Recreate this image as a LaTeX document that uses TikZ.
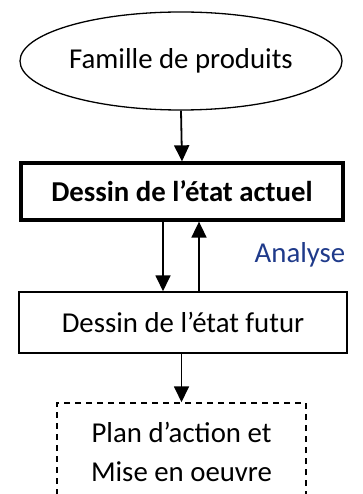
\documentclass[tikz,border=0pt]{standalone}
\usepackage{fontspec}
\setmainfont{Carlito}
\usetikzlibrary{arrows.meta,shapes.geometric}
\definecolor{navytxt}{RGB}{31,58,138}
\begin{document}
\begin{tikzpicture}[x=1pt,y=-1pt,
  every node/.style={font=\fontsize{28.8}{39}\selectfont, inner sep=0pt},
  arr/.style={line width=1.8pt, -{Triangle[length=16pt,width=15pt]}},
  oval/.style={ellipse, draw, line width=1.3pt, minimum width=322pt, minimum height=98pt},
  boldbox/.style={draw, line width=3.3pt, minimum width=322pt, minimum height=57pt},
  plainbox/.style={draw, line width=1.5pt, minimum width=328pt, minimum height=61pt},
  dashbox/.style={draw, line width=1.5pt, dash pattern=on 6pt off 5pt, minimum width=249pt, minimum height=98pt, align=center}
]
\clip (0,0) rectangle (363,494);
\node[oval] (fam) at (181,61) {Famille de produits};
\node[boldbox] (actuel) at (182,191.5) {\textbf{Dessin de l’état actuel}};
\node[plainbox] (futur) at (183,322.5) {Dessin de l’état futur};
\node[dashbox] (plan) at (181.5,452) {Plan d’action et\\Mise en oeuvre};
\node[text=navytxt] (ana) at (300,255) {Analyse};
\draw[arr] (fam.south) -- (actuel.north);
\draw[arr] ([xshift=-19pt]actuel.south) -- ([xshift=-19pt]actuel.south |- futur.north);
\draw[arr] ([xshift=17pt]actuel.south |- futur.north) -- ([xshift=17pt]actuel.south);
\draw[arr] (futur.south -| plan.north) -- (plan.north);
\end{tikzpicture}
\end{document}
